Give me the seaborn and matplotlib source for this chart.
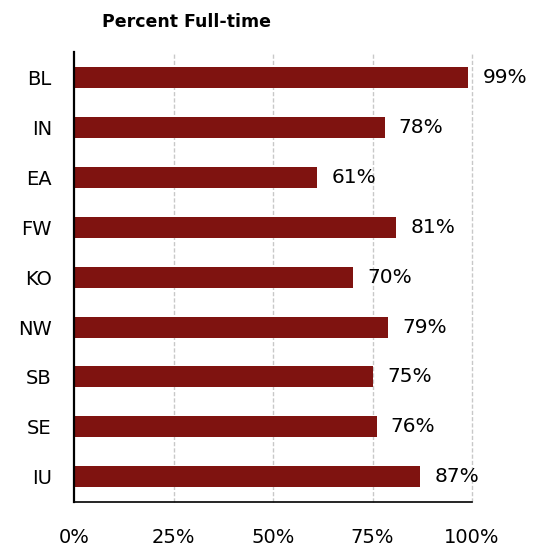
import numpy as np
import pandas as pd
import seaborn as sns
import matplotlib.pyplot as plt

# data
campuses = ["BL", "IN", "EA", "FW", "KO", "NW", "SB", "SE", "IU"]
pct_full_time = [99, 78, 61, 81, 70, 79, 75, 76, 87]
x_ticks = [0, 25, 50, 75, 100]

df = pd.DataFrame({"campus": campuses, "pct": pct_full_time})

sns.set_theme(style="white")
plt.rcParams["font.family"] = ["DejaVu Sans"]

fig = plt.figure(figsize=(5.42, 5.48), dpi=100)
ax = fig.add_axes([0.1365, 0.084, 0.7345, 0.821])

sns.barplot(data=df, x="pct", y="campus", orient="h", color="#7F1310",
            width=0.42, saturation=1, edgecolor="none", ax=ax)

for p, v in zip(ax.patches, pct_full_time):
    ax.text(p.get_width() + 3.6, p.get_y() + p.get_height() / 2, f"{v}%",
            va="center", ha="left", fontsize=14.5, color="black")

ax.set_xlim(0, 100)
ax.set_xticks(x_ticks)
ax.set_xticklabels([f"{t}%" for t in x_ticks])
ax.tick_params(axis="x", length=0, pad=19, labelsize=14, labelcolor="black")
ax.tick_params(axis="y", length=0, pad=16, labelsize=14, labelcolor="black")
ax.set_xlabel("")
ax.set_ylabel("")

for t in x_ticks[1:]:
    ax.axvline(t, color="#C8C8C8", lw=1, ls=(0, (3, 1.5)), zorder=0,
               clip_on=False)

for s in ["top", "right"]:
    ax.spines[s].set_visible(False)
ax.spines["left"].set_color("black")
ax.spines["bottom"].set_color("black")
ax.spines["left"].set_linewidth(1.6)
ax.spines["bottom"].set_linewidth(1.2)

fig.text(102 / 542, 1 - 22 / 548, "Percent Full-time", fontsize=12.5,
         fontweight="bold", va="center", ha="left", color="black")

fig.savefig("out.png", dpi=100)
